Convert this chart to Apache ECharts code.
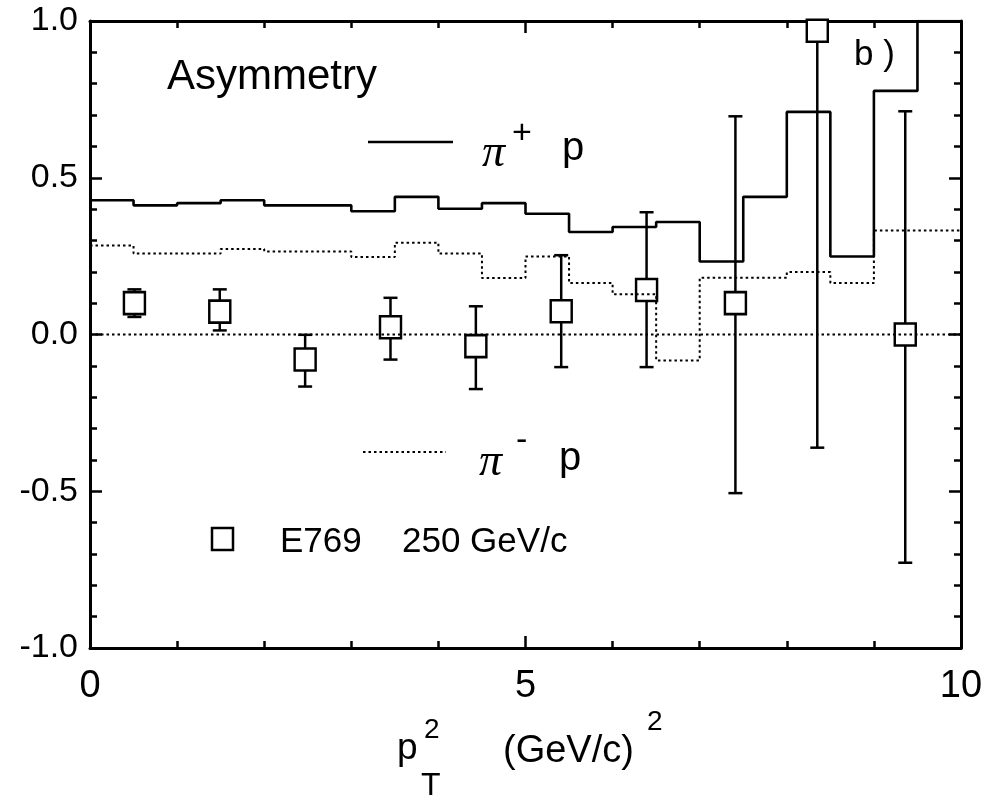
<!DOCTYPE html>
<html>
<head>
<meta charset="utf-8">
<script src="https://cdn.jsdelivr.net/npm/echarts@6/dist/echarts.min.js"></script>
<style>
html,body{margin:0;padding:0;background:#fff;}
#chart{width:989px;height:798px;}
</style>
</head>
<body>
<div id="chart"></div>
<script>
// ---- data ----
const binEdges = [0,0.5,1,1.5,2,2.5,3,3.5,4,4.5,5,5.5,6,6.5,7,7.5,8,8.5,9,9.5,10];
const piPlusValues = [0.428,0.412,0.419,0.428,0.412,0.412,0.393,0.439,0.401,0.419,0.385,0.327,0.343,0.359,0.233,0.439,0.710,0.249,0.777,1.0];
const piMinusValues = [0.284,0.258,0.258,0.273,0.265,0.265,0.247,0.293,0.258,0.180,0.249,0.164,0.128,-0.083,0.181,0.181,0.199,0.164,0.332,0.332];
const e769X = [0.51,1.49,2.47,3.45,4.43,5.41,6.39,7.41,8.35,9.36];
const e769Y = [0.100,0.073,-0.080,0.023,-0.037,0.074,0.142,0.100,0.969,0.0];
const e769Low = [0.056,0.013,-0.166,-0.080,-0.174,-0.104,-0.104,-0.506,-0.361,-0.728];
const e769High = [0.144,0.144,-0.001,0.117,0.090,0.253,0.390,0.696,2.3,0.712];
const xTickLabels = ['0','5','10'];
const yTickLabels = ['-1.0','-0.5','0.0','0.5','1.0'];

// ---- build series data ----
function stepData(vals){
  const d = vals.map((v,i)=>[binEdges[i], v]);
  d.push([binEdges[binEdges.length-1], vals[vals.length-1]]);
  return d;
}
const pts = e769X.map((x,i)=>[x, e769Y[i]]);
const errs = e769X.map((x,i)=>[x, e769Low[i], e769High[i]]);

const FONT = "'Liberation Sans', Arial, Helvetica, sans-serif";
const chart = echarts.init(document.getElementById('chart'), null, {renderer:'canvas'});

const axisCommon = {
  axisLine:{show:true, onZero:false, lineStyle:{color:'#000', width:3}},
  axisTick:{show:true, inside:true, length:12, lineStyle:{color:'#000', width:2.5}},
  minorTick:{show:true, splitNumber:5, length:7, lineStyle:{color:'#000', width:2.5}},
  splitLine:{show:false},
  minorSplitLine:{show:false}
};

const option = {
  backgroundColor:'#fff',
  animation:false,
  grid:{left:90, top:21, width:871, height:627, containLabel:false},
  xAxis:[
    Object.assign({type:'value', position:'bottom', min:0, max:10, interval:5,
      axisLabel:{show:true, margin:20, fontSize:38, fontFamily:FONT, color:'#000',
        formatter:(v)=>xTickLabels[Math.round(v/5)]}}, axisCommon),
    Object.assign({type:'value', position:'top', min:0, max:10, interval:5,
      axisLabel:{show:false}}, axisCommon)
  ],
  yAxis:[
    Object.assign({type:'value', position:'left', min:-1, max:1, interval:0.5,
      axisLabel:{show:true, margin:12, fontSize:34, fontFamily:FONT, color:'#000',
        formatter:(v)=>yTickLabels[Math.round((v+1)/0.5)]}}, axisCommon),
    Object.assign({type:'value', position:'right', min:-1, max:1, interval:0.5,
      axisLabel:{show:false}}, axisCommon)
  ],
  series:[
    {
      type:'custom', name:'err', xAxisIndex:0, yAxisIndex:0, clip:true, z:2,
      data:errs,
      renderItem:function(params, api){
        const x = api.value(0);
        const lo = api.coord([x, api.value(1)]);
        const hi = api.coord([x, api.value(2)]);
        const cw = 7;
        const st = {stroke:'#000', lineWidth:2.5};
        return {type:'group', children:[
          {type:'line', shape:{x1:lo[0], y1:lo[1], x2:hi[0], y2:hi[1]}, style:st},
          {type:'line', shape:{x1:lo[0]-cw, y1:lo[1], x2:lo[0]+cw, y2:lo[1]}, style:st},
          {type:'line', shape:{x1:hi[0]-cw, y1:hi[1], x2:hi[0]+cw, y2:hi[1]}, style:st}
        ]};
      }
    },
    {
      type:'scatter', name:'E769', xAxisIndex:0, yAxisIndex:0, z:3,
      data:pts, symbol:'rect', symbolSize:[21,22],
      itemStyle:{color:'#fff', borderColor:'#000', borderWidth:2.5, opacity:1}
    },
    {
      type:'line', name:'zero', xAxisIndex:0, yAxisIndex:0, z:4,
      data:[[0,0],[10,0]], symbol:'none',
      lineStyle:{color:'#000', width:2, type:[2.5,3]}
    },
    {
      type:'line', name:'pi+ p', xAxisIndex:0, yAxisIndex:0, z:4,
      data:stepData(piPlusValues), step:'end', symbol:'none', clip:true,
      lineStyle:{color:'#000', width:2.6}
    },
    {
      type:'line', name:'pi- p', xAxisIndex:0, yAxisIndex:0, z:4,
      data:stepData(piMinusValues), step:'end', symbol:'none',
      lineStyle:{color:'#000', width:2, type:[2.5,3]}
    }
  ],
  graphic:[
    {type:'text', x:167, y:77, style:{text:'Asymmetry', fontSize:42, fontFamily:FONT, fill:'#000', align:'left', verticalAlign:'middle'}},
    {type:'text', x:854, y:55, style:{text:'b )', fontSize:35, fontFamily:FONT, fill:'#000', align:'left', verticalAlign:'middle'}},
    // pi+ p legend
    {type:'line', shape:{x1:368, y1:142, x2:453, y2:142}, style:{stroke:'#000', lineWidth:2.5}},
    {type:'text', x:482, y:154, style:{text:'\u03c0', fontSize:46, fontStyle:'italic', fontFamily:"'Liberation Serif','Times New Roman',serif", fill:'#000', align:'left', verticalAlign:'middle'}},
    {type:'text', x:512, y:134, style:{text:'+', fontSize:34, fontFamily:FONT, fill:'#000', align:'left', verticalAlign:'middle'}},
    {type:'text', x:562, y:149, style:{text:'p', fontSize:40, fontFamily:FONT, fill:'#000', align:'left', verticalAlign:'middle'}},
    // pi- p legend
    {type:'line', shape:{x1:363, y1:452, x2:446, y2:452}, style:{stroke:'#000', lineWidth:2, lineDash:[2.5,3]}},
    {type:'text', x:479, y:463, style:{text:'\u03c0', fontSize:46, fontStyle:'italic', fontFamily:"'Liberation Serif','Times New Roman',serif", fill:'#000', align:'left', verticalAlign:'middle'}},
    {type:'text', x:516, y:441, style:{text:'-', fontSize:34, fontFamily:FONT, fill:'#000', align:'left', verticalAlign:'middle'}},
    {type:'text', x:559, y:459, style:{text:'p', fontSize:40, fontFamily:FONT, fill:'#000', align:'left', verticalAlign:'middle'}},
    // E769 legend
    {type:'rect', shape:{x:212, y:528, width:21, height:22}, style:{fill:'#fff', stroke:'#000', lineWidth:2.5}},
    {type:'text', x:280, y:542, style:{text:'E769', fontSize:35, fontFamily:FONT, fill:'#000', align:'left', verticalAlign:'middle'}},
    {type:'text', x:402, y:542, style:{text:'250 GeV/c', fontSize:35, fontFamily:FONT, fill:'#000', align:'left', verticalAlign:'middle'}},
    // x axis title
    {type:'text', x:397, y:749, style:{text:'p', fontSize:37, fontFamily:FONT, fill:'#000', align:'left', verticalAlign:'middle'}},
    {type:'text', x:424, y:730, style:{text:'2', fontSize:28, fontFamily:FONT, fill:'#000', align:'left', verticalAlign:'middle'}},
    {type:'text', x:421, y:786, style:{text:'T', fontSize:32, fontFamily:FONT, fill:'#000', align:'left', verticalAlign:'middle'}},
    {type:'text', x:503, y:752, style:{text:'(GeV/c)', fontSize:38, fontFamily:FONT, fill:'#000', align:'left', verticalAlign:'middle'}},
    {type:'text', x:647, y:722, style:{text:'2', fontSize:28, fontFamily:FONT, fill:'#000', align:'left', verticalAlign:'middle'}}
  ]
};
chart.setOption(option);
</script>
</body>
</html>
